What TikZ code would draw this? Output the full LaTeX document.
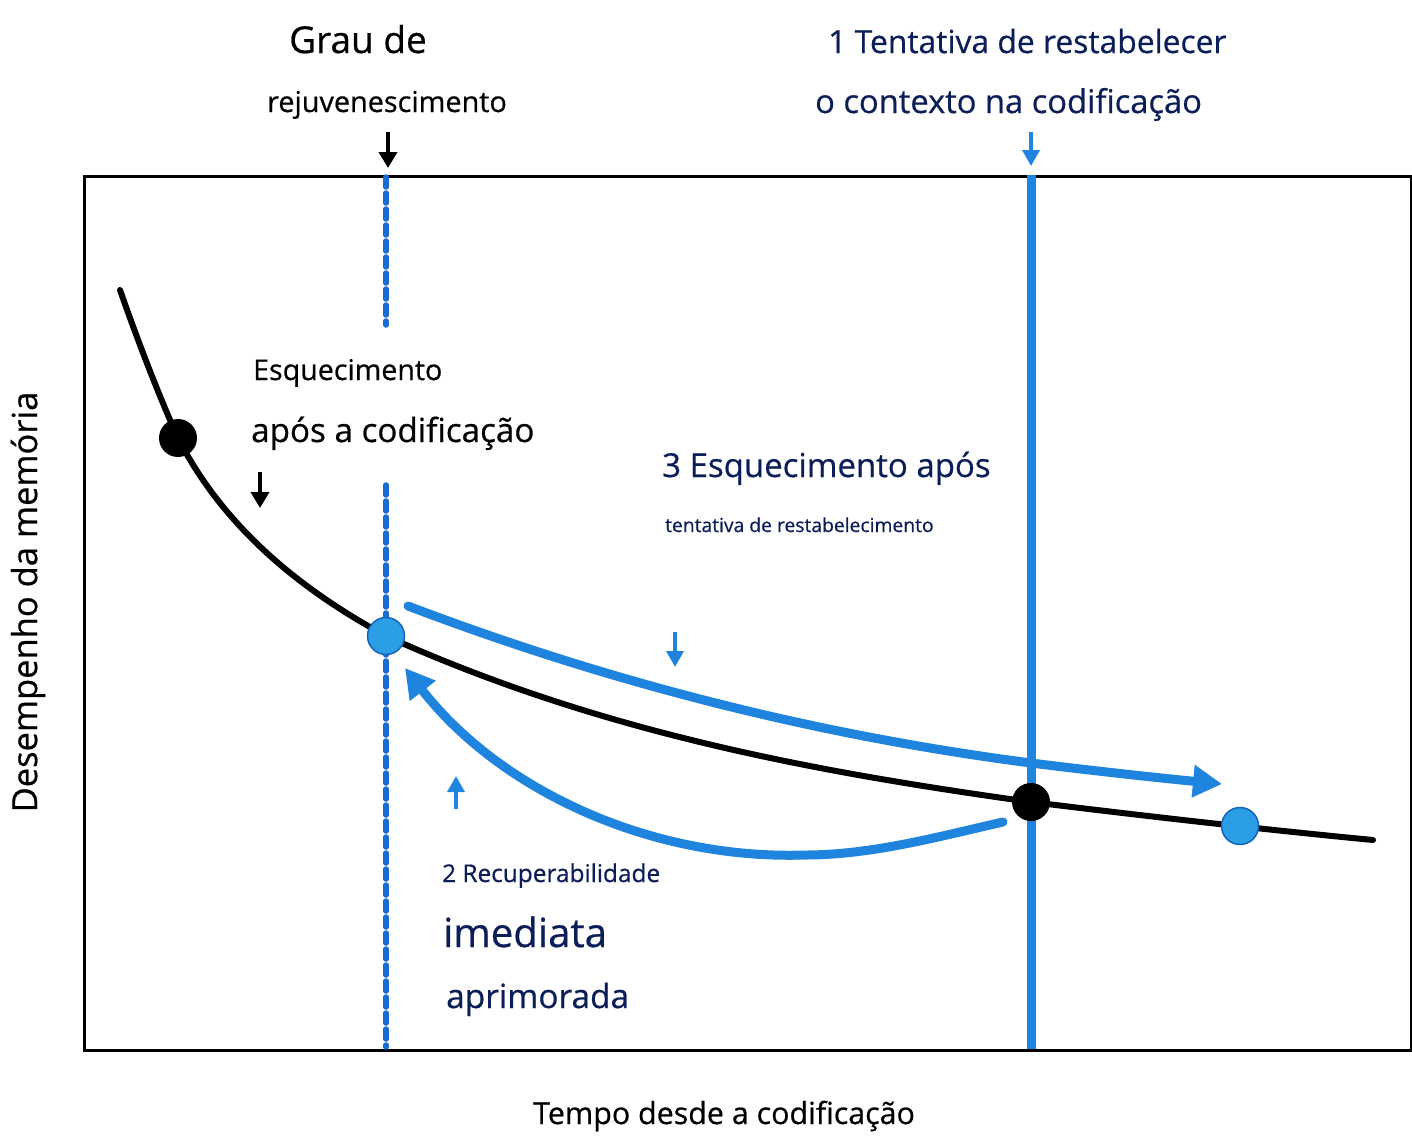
\documentclass[tikz,border=0pt]{standalone}
\usepackage{fontspec}
\setmainfont{Open Sans}[FakeBold=0.6]
\usetikzlibrary{arrows.meta}
\definecolor{lineblue}{RGB}{30,132,222}
\definecolor{dashblue}{RGB}{24,108,212}
\definecolor{dotblue}{RGB}{44,158,230}
\definecolor{dotedge}{RGB}{22,100,190}
\definecolor{navy}{RGB}{12,30,88}
\tikzset{
  lbl/.style={anchor=base west, inner sep=0pt, text=black},
  bluelbl/.style={anchor=base west, inner sep=0pt, text=navy},
  blackdot/.style={circle, fill=black, minimum size=38pt, inner sep=0pt},
  bluedot/.style={circle, fill=dotblue, draw=dotedge, line width=1.5pt, minimum size=37pt, inner sep=0pt},
  smallblack/.style={line width=3.5pt, black, -{Triangle[length=16pt,width=18pt]}},
  smallblue/.style={line width=3.5pt, lineblue, -{Triangle[length=16pt,width=17pt]}},
  bigarrow/.style={line width=9pt, lineblue, line cap=round, -{Triangle[length=29pt,width=31pt]}},
  dashline/.style={dashblue, line width=5.5pt, dash pattern=on 10pt off 6pt, line cap=round},
}
\begin{document}
\begin{tikzpicture}[x=1pt,y=-1pt]
\useasboundingbox (0,0) rectangle (1412,1143);
% frame
\node[draw=black, line width=3pt, minimum width=1327pt, minimum height=874pt, inner sep=0pt, anchor=north west] (frame) at (83,175) {};
% vertical lines
\coordinate (d1) at (386,177);
\coordinate (d2) at (386,325);
\coordinate (d3) at (386,485);
\coordinate (d4) at (386,1047);
\draw[dashline] (d1) -- (d2);
\draw[dashline] (d3) -- (d4);
\coordinate (v1) at (1031,175);
\coordinate (v2) at (1031,1049);
\draw[lineblue, line width=9pt] (v1) -- (v2);
% curve anchor points
\coordinate (c0) at (120,290);
\coordinate (c1) at (178,438);
\coordinate (c2) at (386,636);
\coordinate (c3) at (1031,802);
\coordinate (c4) at (1373,840);
% blue arrows
\coordinate (ua) at (408,606);
\coordinate (um) at (1031,763);
\coordinate (ub) at (1222,784);
\draw[bigarrow] (ua) .. controls (616,685) and (823,736) .. (um) .. controls (1095,771) and (1160,778) .. (ub);
\coordinate (la) at (1003,822);
\coordinate (lm) at (805,855);
\coordinate (lb) at (405,668);
\draw[bigarrow] (la) .. controls (937,837) and (871,855) .. (lm) .. controls (650,860) and (500,790) .. (lb);
% black curve
\draw[black, line width=6pt, line cap=round] (c0) .. controls (139,344) and (159,396) .. (c1)
  .. controls (230,540) and (320,600) .. (c2)
  .. controls (601,733) and (816,772) .. (c3)
  .. controls (1145,816) and (1259,829) .. (c4);
% dots
\node[blackdot] (p1) at (c1) {};
\node[bluedot] (p2) at (c2) {};
\node[blackdot] (p3) at (c3) {};
\node[bluedot] (p4) at (1240,826) {};
% small arrows
\coordinate (a1s) at (388,132); \coordinate (a1e) at (388,168);
\draw[smallblack] (a1s) -- (a1e);
\coordinate (a2s) at (260,472); \coordinate (a2e) at (260,508);
\draw[smallblack] (a2s) -- (a2e);
\coordinate (a3s) at (1031,132); \coordinate (a3e) at (1031,166);
\draw[smallblue] (a3s) -- (a3e);
\coordinate (a4s) at (675,632); \coordinate (a4e) at (675,667);
\draw[smallblue] (a4s) -- (a4e);
\coordinate (a5s) at (456,809); \coordinate (a5e) at (456,776);
\draw[smallblue] (a5s) -- (a5e);
% texts
\node[lbl, font=\fontsize{37}{42}\selectfont] (t1) at (289,53) {Grau de};
\node[lbl, font=\fontsize{28.8}{33}\selectfont] (t2) at (267,112) {rejuvenescimento};
\node[bluelbl, font=\fontsize{31.8}{36}\selectfont] (t3) at (828,53) {1 Tentativa de restabelecer};
\node[bluelbl, font=\fontsize{32.7}{37}\selectfont] (t4) at (815,113) {o contexto na codificação};
\node[lbl, font=\fontsize{28.6}{33}\selectfont] (t5) at (253,380) {Esquecimento};
\node[lbl, font=\fontsize{33.2}{38}\selectfont] (t6) at (251,442) {após a codificação};
\node[bluelbl, font=\fontsize{33}{38}\selectfont] (t7) at (662,477) {3 Esquecimento após};
\node[bluelbl, font=\fontsize{19.3}{22}\selectfont] (t8) at (665,532) {tentativa de restabelecimento};
\node[bluelbl, font=\fontsize{24.4}{28}\selectfont] (t9) at (442,882) {2 Recuperabilidade};
\node[bluelbl, font=\fontsize{40.2}{45}\selectfont] (t10) at (443,947) {imediata};
\node[bluelbl, font=\fontsize{33.4}{38}\selectfont] (t11) at (446,1008) {aprimorada};
\node[lbl, font=\fontsize{30.4}{35}\selectfont] (t12) at (533,1124) {Tempo desde a codificação};
\node[text=black, inner sep=0pt, rotate=90, font=\fontsize{34.5}{40}\selectfont] (t13) at (28,602) {Desempenho da memória};
\end{tikzpicture}
\end{document}
